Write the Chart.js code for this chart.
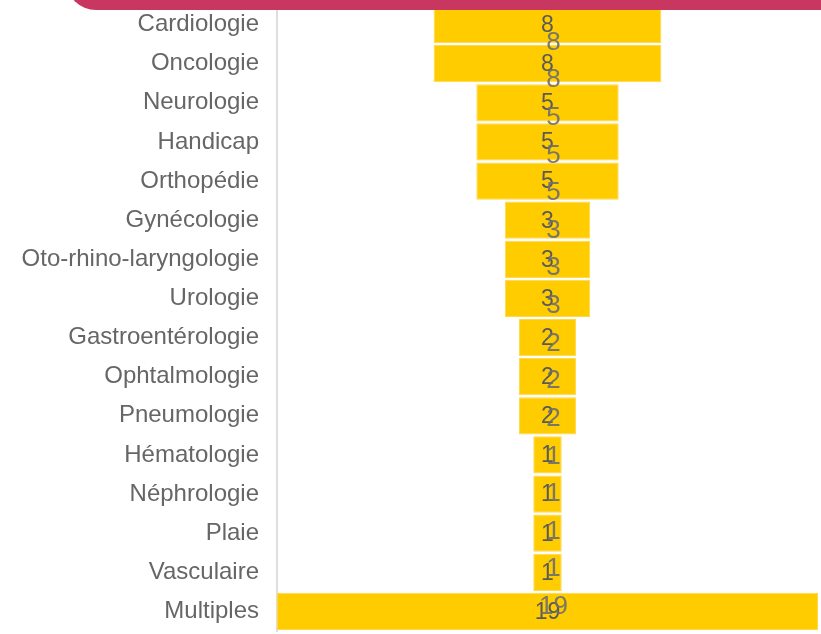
<!DOCTYPE html>
<html>
<head>
<meta charset="utf-8">
<script src="https://cdn.jsdelivr.net/npm/chart.js@4/dist/chart.umd.min.js"></script>
<style>
  html, body { margin: 0; padding: 0; background: #fff; overflow: hidden; }
  .banner {
    position: absolute; left: 66px; right: -20px; top: -40px; height: 50px;
    background: #c8375f; border-bottom-left-radius: 30px;
  }
  .wrap { position: absolute; left: 0; top: 0; width: 821px; height: 634px; }
</style>
</head>
<body>
<div class="wrap"><canvas id="funnel" width="821" height="634"></canvas></div>
<div class="banner"></div>
<script>
const specialites = ['Cardiologie', 'Oncologie', 'Neurologie', 'Handicap', 'Orthopédie',
  'Gynécologie', 'Oto-rhino-laryngologie', 'Urologie', 'Gastroentérologie', 'Ophtalmologie',
  'Pneumologie', 'Hématologie', 'Néphrologie', 'Plaie', 'Vasculaire', 'Multiples'];
const effectifs = [8, 8, 5, 5, 5, 3, 3, 3, 2, 2, 2, 1, 1, 1, 1, 19];

// bars centred on zero, funnel style
const spans = effectifs.map(v => [-v / 2, v / 2]);
const maxVal = Math.max(...effectifs);

const valueLabels = {
  id: 'valueLabels',
  afterDatasetsDraw(chart) {
    const ctx = chart.ctx;
    const meta = chart.getDatasetMeta(0);
    const x = chart.scales.x.getPixelForValue(0);
    ctx.save();
    ctx.textAlign = 'center';
    ctx.textBaseline = 'middle';
    meta.data.forEach((bar, i) => {
      ctx.font = '23px "Liberation Sans", Arial, sans-serif';
      ctx.fillStyle = '#5a5a5a';
      ctx.fillText(effectifs[i], x, bar.y + 1);
    });
    meta.data.forEach((bar, i) => {
      ctx.font = '26px "Liberation Sans", Arial, sans-serif';
      ctx.fillStyle = 'rgba(110,110,110,0.9)';
      ctx.fillText(effectifs[i], x + 6, bar.y + 18 - 1.5 * i);
    });
    ctx.restore();
  }
};

new Chart(document.getElementById('funnel'), {
  type: 'bar',
  data: {
    labels: specialites,
    datasets: [{
      data: spans,
      backgroundColor: '#ffcc00',
      borderColor: '#ffd84a',
      borderWidth: 1,
      borderSkipped: false,
      barPercentage: 0.95,
      categoryPercentage: 1
    }]
  },
  options: {
    indexAxis: 'y',
    responsive: false,
    animation: false,
    layout: { padding: { left: 20, right: 3, top: 5, bottom: 3 } },
    plugins: {
      legend: { display: false },
      tooltip: { enabled: false }
    },
    scales: {
      x: {
        display: false,
        min: -maxVal / 2,
        max: maxVal / 2
      },
      y: {
        grid: { display: false, drawTicks: false },
        border: { display: true, color: '#dedede', width: 2 },
        ticks: {
          color: '#666',
          padding: 18,
          font: { size: 24, family: '"Liberation Sans", Arial, sans-serif' }
        },
        afterFit(scale) {
          scale.width = 257;
          scale.paddingTop = 0;
          scale.paddingBottom = 0;
        }
      }
    }
  },
  plugins: [valueLabels]
});
</script>
</body>
</html>
